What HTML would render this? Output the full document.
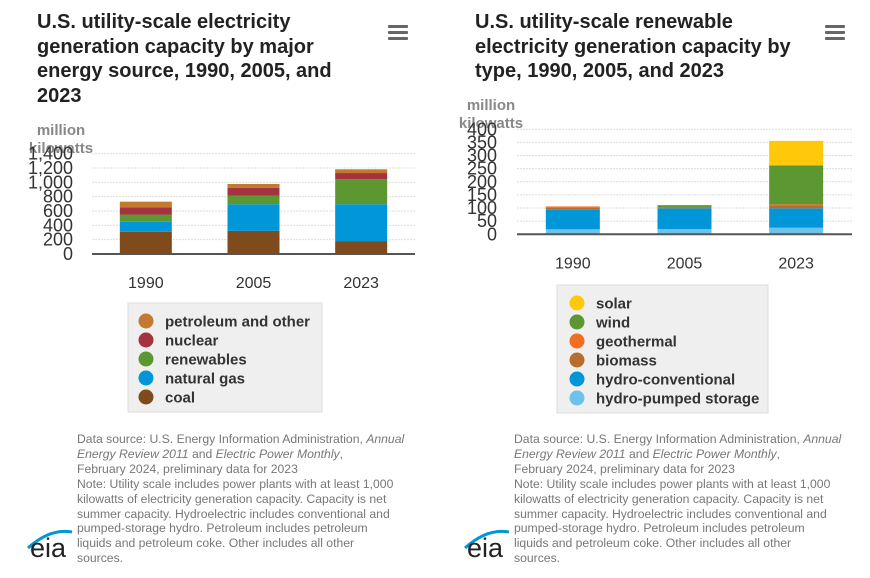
<!DOCTYPE html>
<html><head><meta charset="utf-8"><style>
body{margin:0;width:870px;height:578px;background:#fff;font-family:"Liberation Sans",Arial,sans-serif;overflow:hidden;position:relative}
.title{position:absolute;font-weight:bold;font-size:20px;line-height:24.5px;color:#222;white-space:nowrap}
.menu{position:absolute;width:20px;height:16px}
.menu div{height:3px;background:#666;margin-bottom:3px;border-radius:1px}
.note{position:absolute;font-size:12.2px;line-height:14.9px;color:#777;white-space:nowrap}
.logo{position:absolute;font-size:27px;color:#222}
svg{position:absolute;left:0;top:0}
</style></head><body>
<div class="title" style="left:37px;top:10px">U.S. utility-scale electricity<br>generation capacity by major<br>energy source, 1990, 2005, and<br>2023</div>
<div class="menu" style="left:388px;top:25px"><div></div><div></div><div></div></div>
<div class="title" style="left:475px;top:10px">U.S. utility-scale renewable<br>electricity generation capacity by<br>type, 1990, 2005, and 2023</div>
<div class="menu" style="left:825px;top:25px"><div></div><div></div><div></div></div>
<svg id="chart" width="870" height="578"></svg>
<div class="note" style="left:77px;top:432px">Data source: U.S. Energy Information Administration, <i>Annual</i><br><i>Energy Review 2011</i> and <i>Electric Power Monthly</i>,<br>February 2024, preliminary data for 2023<br>Note: Utility scale includes power plants with at least 1,000<br>kilowatts of electricity generation capacity. Capacity is net<br>summer capacity. Hydroelectric includes conventional and<br>pumped-storage hydro. Petroleum includes petroleum<br>liquids and petroleum coke. Other includes all other<br>sources.</div>
<div class="note" style="left:514px;top:432px">Data source: U.S. Energy Information Administration, <i>Annual</i><br><i>Energy Review 2011</i> and <i>Electric Power Monthly</i>,<br>February 2024, preliminary data for 2023<br>Note: Utility scale includes power plants with at least 1,000<br>kilowatts of electricity generation capacity. Capacity is net<br>summer capacity. Hydroelectric includes conventional and<br>pumped-storage hydro. Petroleum includes petroleum<br>liquids and petroleum coke. Other includes all other<br>sources.</div>
<div class="logo" style="left:30px;top:533px">eia</div>
<div class="logo" style="left:467px;top:533px">eia</div>
<script>
const categories=["1990","2005","2023"];
const leftSeries=["coal","natural gas","renewables","nuclear","petroleum and other"];
const leftColors=["#7f4a1c","#0096d7","#5d9732","#a33340","#c47930"];
const coal=[310,323,180];
const naturalGas=[140,371,514];
const renewables=[100,121,348];
const nuclear=[100,106,87];
const petroleum=[80,55,52];
const leftTicks=[0,200,400,600,800,1000,1200,1400];
const rightSeries=["hydro-pumped storage","hydro-conventional","biomass","geothermal","wind","solar"];
const rightColors=["#6cc2ea","#0096d7","#b96d2b","#f26c21","#5d9732","#ffc80a"];
const pumped=[19,20,25];
const hydro=[74,79,74];
const biomass=[10,3,11];
const geothermal=[3,2,4];
const wind=[0,7,148];
const solar=[0,0,94];
const rightTicks=[0,50,100,150,200,250,300,350,400];

const NS="http://www.w3.org/2000/svg";
const svg=document.getElementById('chart');
function mk(t,a){const e=document.createElementNS(NS,t);for(const k in a)e.setAttribute(k,a[k]);svg.appendChild(e);return e;}
function draw(o){
  const y=v=>o.base-v/o.max*(o.base-o.top);
  ['million','kilowatts'].forEach((w,k)=>{
    const t=mk('text',{x:o.labX,y:o.labY+k*18,'text-anchor':'middle','font-size':'15','font-weight':'bold','fill':'#888','font-family':'Liberation Sans, sans-serif'});
    t.textContent=w;
    
    
  });
  o.ticks.forEach(t=>{
    if(t>0){const g=mk('line',{x1:o.x0,x2:o.x1,y1:y(t),y2:y(t),stroke:'#ddd','stroke-dasharray':'2,1'});
    
    }
    const tx=mk('text',{x:o.tickX,y:y(t)+6,'text-anchor':'end','font-size':'18','fill':'#333','font-family':'Liberation Sans, sans-serif'});
    tx.textContent=t.toLocaleString('en-US');
    
    
  });
  const bw=(o.x1-o.x0)/categories.length;
  categories.forEach((c,i)=>{
    let acc=0;const cx=o.x0+bw*(i+0.5);
    o.data.forEach((arr,s)=>{
      const v=arr[i];if(v<=0)return;
      const r=mk('rect',{x:cx-o.bar/2,y:y(acc+v),width:o.bar,height:y(acc)-y(acc+v),fill:o.colors[s]});
      
      
      acc+=v;
    });
    const lt=mk('text',{x:cx,y:o.base+34,'text-anchor':'middle','font-size':'16','fill':'#333','font-family':'Liberation Sans, sans-serif'});
    lt.textContent=c;
    
    
  });
  const ax=mk('line',{x1:o.x0,x2:o.x1,y1:o.base,y2:o.base,stroke:'#555','stroke-width':2});
  
  
  const lb=mk('rect',{x:o.lx,y:o.ly,width:o.lw,height:o.lh,fill:'#efefef',stroke:'#ddd'});
  
  
  for(let s=o.names.length-1,k=0;s>=0;s--,k++){
    const cy=o.ly+18+k*19;
    const ci=mk('circle',{cx:o.lx+o.cOff,cy:cy,r:7.5,fill:o.colors[s]});
    
    
    const t=mk('text',{x:o.lx+o.cOff+19,y:cy+5.5,'font-size':'15','font-weight':'bold','fill':'#333','font-family':'Liberation Sans, sans-serif'});
    t.textContent=o.names[s];
    
    
  }
}
draw({x0:92,x1:415,base:254,top:153.6,max:1400,ticks:leftTicks,tickX:73,bar:52,data:[coal,naturalGas,renewables,nuclear,petroleum],colors:leftColors,names:leftSeries,labX:61,labY:135,lx:128,ly:303,lw:194,lh:109,cOff:18});
draw({x0:517,x1:852,base:234.3,top:129.3,max:400,ticks:rightTicks,tickX:497,bar:54,data:[pumped,hydro,biomass,geothermal,wind,solar],colors:rightColors,names:rightSeries,labX:491,labY:110,lx:557,ly:285,lw:211,lh:128,cOff:20});
[30,467].forEach(x=>{const p=mk('path',{d:`M${x-2} 548 Q${x+20} 528 ${x+42} 532`,stroke:'#0096d7','stroke-width':3,fill:'none'});

});
</script>
</body></html>
